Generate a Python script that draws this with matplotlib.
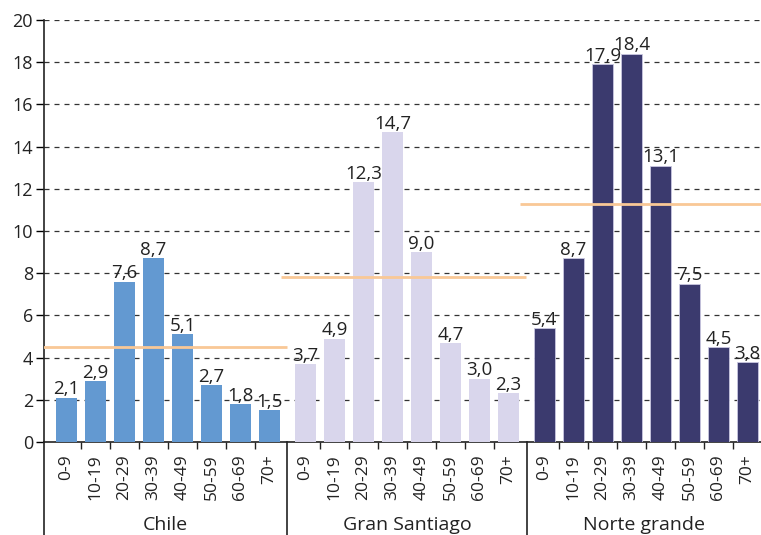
import matplotlib.pyplot as plt
import numpy as np

# data
groups = ['Chile', 'Gran Santiago', 'Norte grande']
ages = ['0-9', '10-19', '20-29', '30-39', '40-49', '50-59', '60-69', '70+']
chile = [2.1, 2.9, 7.6, 8.7, 5.1, 2.7, 1.8, 1.5]
gran_santiago = [3.7, 4.9, 12.3, 14.7, 9.0, 4.7, 3.0, 2.3]
norte_grande = [5.4, 8.7, 17.9, 18.4, 13.1, 7.5, 4.5, 3.8]
averages = [4.5, 7.8, 11.3]
colors = ['#6399d1', '#d9d6ec', '#3b3a6e']

plt.rcParams['font.family'] = ['Open Sans', 'DejaVu Sans']

fig = plt.figure(figsize=(7.61, 5.35), dpi=100)
ax = fig.add_axes([44 / 761, 93 / 535, 717 / 761, 422 / 535])

gap = 8.24  # group offset in slot units
series = [chile, gran_santiago, norte_grande]
xs_all, labels_all = [], []
minor = []
for g, vals in enumerate(series):
    xs = g * gap + np.arange(len(ages))
    ax.bar(xs, vals, width=0.7, color=colors[g], edgecolor='#c9c7e0' if g == 2 else 'none',
           linewidth=0.6, zorder=3)
    for x, v in zip(xs, vals):
        ax.annotate(f'{v:.1f}'.replace('.', ','), (x, v), xytext=(0, -0.5),
                    textcoords='offset points', ha='center', va='bottom',
                    fontsize=13.5, color='#222222', zorder=5)
    # average line
    ax.plot([g * gap - 0.85, g * gap + 7.6], [averages[g]] * 2, color='#f9c896',
            lw=2, zorder=4, solid_capstyle='butt')
    xs_all += list(xs)
    labels_all += ages
    minor += list(xs[:-1] + 0.5)

ax.set_xlim(-0.776, 23.95)
ax.set_ylim(0, 20)
ax.set_yticks(range(0, 21, 2))
ax.yaxis.grid(True, linestyle=(0, (4, 4)), color='#333333', lw=0.9, zorder=1)
ax.set_axisbelow(True)

ax.set_xticks(xs_all)
ax.set_xticklabels(labels_all, rotation=90, fontsize=12.5, color='#222222')
ax.set_xticks(minor, minor=True)
ax.tick_params(axis='x', which='major', length=0, pad=9)
ax.tick_params(axis='x', which='minor', length=5, width=1, color='#222222')
ax.tick_params(axis='y', length=6, width=1, labelsize=13, labelcolor='#222222', pad=2)

for s in ['top', 'right']:
    ax.spines[s].set_visible(False)
ax.spines['left'].set_color('#222222')
ax.spines['bottom'].set_color('#222222')
ax.spines['left'].set_linewidth(1.2)
ax.spines['bottom'].set_linewidth(1.2)

# group separators and axis extension below
trans = ax.get_xaxis_transform()
for x in [-0.776, 7.6, 15.88]:
    ax.plot([x, x], [0, -0.3], color='#222222', lw=1.2, transform=trans, clip_on=False)

centers = [(-0.776 + 7.6) / 2, (7.6 + 15.88) / 2, (15.88 + 23.95) / 2]
for c, name in zip(centers, groups):
    ax.text(c, -0.197, name, transform=trans, ha='center', va='center', fontsize=14,
            color='#222222')

fig.savefig('out.png', dpi=100)
